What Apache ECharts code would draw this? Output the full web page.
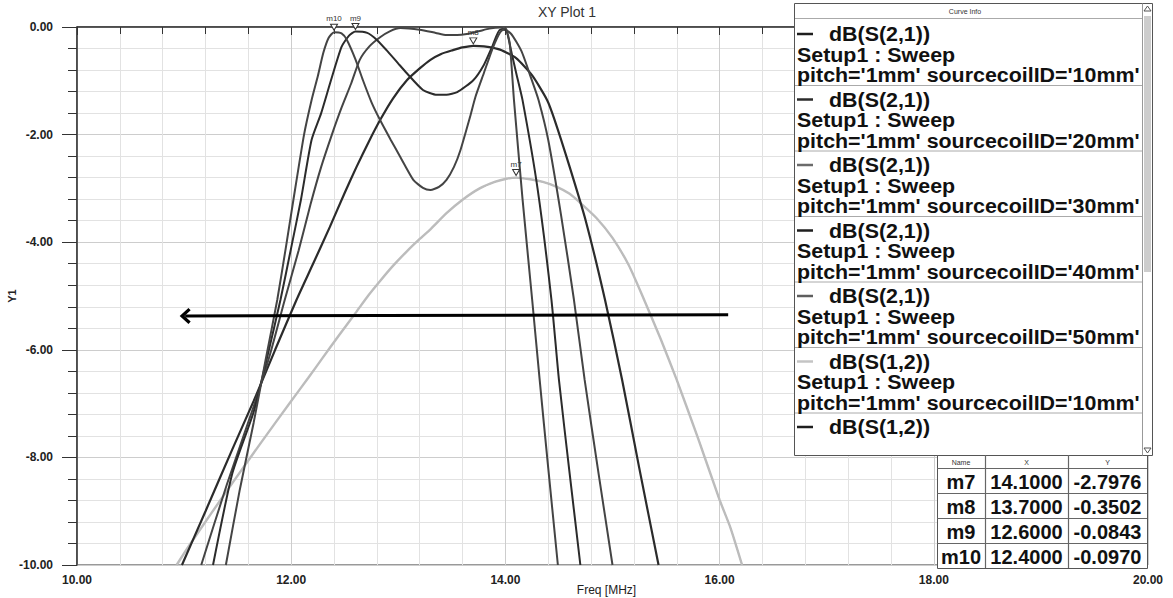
<!DOCTYPE html>
<html><head><meta charset="utf-8">
<script src="https://cdn.jsdelivr.net/npm/echarts@6/dist/echarts.min.js"></script>
<style>html,body{margin:0;padding:0;background:#fff}#c{width:1173px;height:598px}</style>
</head><body><div id="c"></div>
<script>
// ---- data (Freq MHz, dB) ----
const s21_10mm = [[10.93,-10],[11.04,-9.66],[11.25,-9.05],[11.46,-8.45],[11.72,-7.72],[11.99,-6.98],[12.16,-6.52],[12.29,-6.16],[12.45,-5.72],[12.61,-5.29],[12.72,-4.99],[12.83,-4.72],[12.95,-4.44],[13.08,-4.17],[13.2,-3.94],[13.3,-3.76],[13.45,-3.46],[13.6,-3.21],[13.76,-3.0],[13.9,-2.88],[14.01,-2.82],[14.1,-2.8],[14.23,-2.83],[14.35,-2.88],[14.48,-2.97],[14.6,-3.1],[14.7,-3.27],[14.85,-3.55],[15.0,-3.92],[15.15,-4.42],[15.28,-5.0],[15.45,-5.8],[15.6,-6.56],[15.8,-7.65],[16.0,-8.79],[16.1,-9.3],[16.21,-10]];
const s21_20mm = [[10.98,-10],[11.2,-9.0],[11.45,-7.85],[11.65,-6.95],[11.85,-6.0],[12.05,-5.07],[12.2,-4.42],[12.36,-3.72],[12.5,-3.08],[12.61,-2.6],[12.72,-2.15],[12.83,-1.73],[12.95,-1.33],[13.08,-0.99],[13.2,-0.77],[13.3,-0.61],[13.4,-0.5],[13.51,-0.43],[13.6,-0.38],[13.7,-0.35],[13.8,-0.36],[13.95,-0.42],[14.1,-0.58],[14.25,-0.9],[14.39,-1.36],[14.46,-1.73],[14.6,-2.6],[14.75,-3.6],[14.93,-5.07],[15.09,-6.56],[15.25,-8.2],[15.43,-10]];
const s21_30mm = [[11.16,-10],[11.4,-8.5],[11.65,-7.05],[11.8,-6.1],[11.94,-5.07],[12.07,-4.15],[12.18,-3.3],[12.28,-2.6],[12.38,-2.0],[12.47,-1.5],[12.56,-1.05],[12.64,-0.61],[12.73,-0.36],[12.83,-0.19],[12.92,-0.08],[13.02,-0.02],[13.2,-0.05],[13.35,-0.11],[13.45,-0.15],[13.55,-0.15],[13.64,-0.13],[13.75,-0.08],[13.85,-0.03],[13.95,-0.01],[14.05,-0.12],[14.15,-0.45],[14.24,-0.95],[14.31,-1.36],[14.4,-2.1],[14.52,-3.5],[14.64,-5.07],[14.74,-6.56],[14.87,-8.3],[15.0,-10]];
const s21_40mm = [[11.27,-10],[11.45,-8.3],[11.65,-7.15],[11.78,-6.1],[11.9,-5.07],[12.0,-4.1],[12.09,-3.22],[12.19,-2.1],[12.28,-1.6],[12.37,-1.0],[12.47,-0.37],[12.54,-0.16],[12.6,-0.084],[12.71,-0.11],[12.8,-0.24],[12.89,-0.43],[13.0,-0.68],[13.08,-0.86],[13.23,-1.17],[13.36,-1.26],[13.45,-1.26],[13.55,-1.21],[13.7,-0.99],[13.8,-0.7],[13.88,-0.35],[13.95,-0.05],[14.0,-0.05],[14.06,-0.5],[14.1,-0.85],[14.16,-1.36],[14.3,-3.0],[14.43,-5.07],[14.5,-6.56],[14.6,-8.3],[14.7,-10]];
const s21_50mm = [[11.39,-10],[11.52,-8.6],[11.65,-7.35],[11.76,-6.2],[11.87,-5.07],[11.95,-4.1],[12.02,-3.22],[12.12,-2.0],[12.19,-1.36],[12.25,-0.9],[12.3,-0.48],[12.35,-0.2],[12.4,-0.097],[12.47,-0.12],[12.52,-0.24],[12.6,-0.6],[12.67,-0.99],[12.75,-1.4],[12.83,-1.73],[12.93,-2.1],[13.02,-2.42],[13.14,-2.84],[13.23,-2.99],[13.3,-3.03],[13.38,-2.97],[13.45,-2.84],[13.52,-2.6],[13.58,-2.29],[13.67,-1.67],[13.72,-1.3],[13.8,-0.85],[13.88,-0.4],[13.95,-0.1],[14.0,-0.02],[14.04,-0.3],[14.08,-1.36],[14.16,-3.2],[14.25,-5.07],[14.32,-6.56],[14.4,-8.2],[14.49,-10]];
const s12_10mm = [[10.93,-10],[11.04,-9.66],[11.25,-9.05],[11.46,-8.45],[11.72,-7.72],[11.99,-6.98],[12.16,-6.52],[12.29,-6.16],[12.45,-5.72],[12.61,-5.29],[12.72,-4.99],[12.83,-4.72],[12.95,-4.44],[13.08,-4.17],[13.2,-3.94],[13.3,-3.76],[13.45,-3.46],[13.6,-3.21],[13.76,-3.0],[13.9,-2.88],[14.01,-2.82],[14.1,-2.8],[14.23,-2.83],[14.35,-2.88],[14.48,-2.97],[14.6,-3.1],[14.7,-3.27],[14.85,-3.55],[15.0,-3.92],[15.15,-4.42],[15.28,-5.0],[15.45,-5.8],[15.6,-6.56],[15.8,-7.65],[16.0,-8.79],[16.1,-9.3],[16.21,-10]];

// markers
const markerNames = ["m7","m8","m9","m10"];
const markerX = [14.1, 13.7, 12.6, 12.4];
const markerY = [-2.7976, -0.3502, -0.0843, -0.0970];

// arrow annotation (data coords)
const arrowStart = [16.08, -5.35];
const arrowEnd = [11.01, -5.37];

// legend entries
const legendNames = ["dB(S(2,1))","dB(S(2,1))","dB(S(2,1))","dB(S(2,1))","dB(S(2,1))","dB(S(1,2))","dB(S(1,2))"];
const legendSetup = "Setup1 : Sweep";
const legendCoil = ["10mm","20mm","30mm","40mm","50mm","10mm",""];
const legendColors = ['#1e1e1e','#2b2b2b','#6b6b6b','#1e1e1e','#5e5e5e','#c4c4c4','#1e1e1e'];

const FONT = '"Liberation Sans", Arial, sans-serif';
const chart = echarts.init(document.getElementById('c'), null, {renderer:'svg'});

function lineSeries(name, data, color, width, z){
  return {type:'line', name, data, showSymbol:false, symbol:'none', smooth:0.2, z,
    lineStyle:{color, width}, emphasis:{disabled:true}, silent:true, animation:false};
}

const graphic = [];
// title
graphic.push({type:'text', x:567, y:12, z:50, style:{text:'XY Plot 1', font:'14px '+FONT, fill:'#333', align:'center', textAlign:'center', verticalAlign:'middle', textVerticalAlign:'middle'}});
// legend box
graphic.push({type:'rect', z:100, shape:{x:794.5,y:3.5,width:358,height:452}, style:{fill:'#fff', stroke:'#555', lineWidth:1}});
graphic.push({type:'line', z:101, shape:{x1:1142.5,y1:3.5,x2:1142.5,y2:455.5}, style:{stroke:'#999', lineWidth:1}});
graphic.push({type:'rect', z:101, shape:{x:1144,y:16,width:7,height:256}, style:{fill:'#cdcdcd'}});
graphic.push({type:'polygon', z:101, shape:{points:[[1144,11],[1147.5,6],[1151,11]]}, style:{fill:'none', stroke:'#555', lineWidth:1}});
graphic.push({type:'polygon', z:101, shape:{points:[[1144,448],[1147.5,453],[1151,448]]}, style:{fill:'none', stroke:'#555', lineWidth:1}});
graphic.push({type:'text', x:965, y:11, z:102, style:{text:'Curve Info', font:'7px '+FONT, fill:'#333', align:'center', textAlign:'center', verticalAlign:'middle', textVerticalAlign:'middle'}});
graphic.push({type:'line', z:101, shape:{x1:795,y1:18.5,x2:1142,y2:18.5}, style:{stroke:'#aaa', lineWidth:1}});
function legendText(x,y,t){
  return {type:'text', x, y, z:102, scaleX:1.07, style:{text:t, font:'bold 20px '+FONT, fill:'#111', align:'left', textAlign:'left', verticalAlign:'middle', textVerticalAlign:'middle'}};
}
legendNames.forEach((nm,i)=>{
  const yc = 34 + 65.5*i;
  graphic.push({type:'line', z:102, shape:{x1:797,y1:yc,x2:813,y2:yc}, style:{stroke:legendColors[i], lineWidth:2.5}});
  graphic.push(legendText(829, yc, nm));
  if (legendCoil[i]) {
    graphic.push(legendText(797, yc+20.5, legendSetup));
    graphic.push(legendText(797, yc+41, "pitch='1mm' sourcecoilID='" + legendCoil[i] + "'"));
  }
  if (i < legendNames.length-1) graphic.push({type:'line', z:101, shape:{x1:795,y1:yc+51.5,x2:1142,y2:yc+51.5}, style:{stroke:'#aaa', lineWidth:1}});
});
// marker table
const colX = [937, 985, 1068, 1147];
const rowY = [455, 468, 493, 518, 543, 568];
graphic.push({type:'rect', z:100, shape:{x:colX[0]+0.5,y:rowY[0]+0.5,width:colX[3]-colX[0],height:rowY[5]-rowY[0]}, style:{fill:'#fff', stroke:'#555', lineWidth:1}});
for (let k=1;k<3;k++) graphic.push({type:'line', z:101, shape:{x1:colX[k]+0.5,y1:rowY[0],x2:colX[k]+0.5,y2:rowY[5]}, style:{stroke:'#666', lineWidth:1.2}});
for (let r=1;r<5;r++) graphic.push({type:'line', z:101, shape:{x1:colX[0],y1:rowY[r]+0.5,x2:colX[3],y2:rowY[r]+0.5}, style:{stroke:'#666', lineWidth:1.2}});
['Name','X','Y'].forEach((h,k)=>{
  graphic.push({type:'text', x:(colX[k]+colX[k+1])/2, y:462, z:102, style:{text:h, font:'7px '+FONT, fill:'#333', align:'center', textAlign:'center', verticalAlign:'middle', textVerticalAlign:'middle'}});
});
markerNames.forEach((nm,r)=>{
  const yc = (rowY[r+1]+rowY[r+2])/2 + 1;
  const cells = [nm, markerX[r].toFixed(4), markerY[r].toFixed(4)];
  cells.forEach((t,k)=>{
    graphic.push({type:'text', x:(colX[k]+colX[k+1])/2, y:yc, z:102, style:{text:t, font:'bold 20px '+FONT, fill:'#111', align:'center', textAlign:'center', verticalAlign:'middle', textVerticalAlign:'middle'}});
  });
});

const option = {
  animation:false,
  backgroundColor:'#fff',
  grid:{left:77, right:25, top:27, bottom:33, containLabel:false, outerBoundsMode:'none', show:true, borderColor:'#333', borderWidth:1, backgroundColor:'transparent'},
  xAxis:{type:'value', min:10, max:20, interval:2,
    name:'Freq [MHz]', nameLocation:'middle', nameGap:19, nameMoveOverlap:false,
    nameTextStyle:{fontFamily:FONT, fontSize:12, color:'#222', padding:[0,12,0,0]},
    axisLine:{lineStyle:{color:'#333', width:1.5}},
    axisTick:{show:true, length:8, lineStyle:{color:'#333'}},
    minorTick:{show:true, splitNumber:5, length:7, lineStyle:{color:'#333'}},
    splitLine:{show:true, lineStyle:{color:'#cdcdcd', width:1}},
    minorSplitLine:{show:true, lineStyle:{color:'#e2e2e2', width:1}},
    axisLabel:{formatter:v=>v.toFixed(2), fontFamily:FONT, fontSize:12, fontWeight:'bold', color:'#222', margin:9, hideOverlap:false}
  },
  yAxis:{type:'value', min:-10, max:0, interval:2,
    name:'Y1', nameLocation:'middle', nameGap:60, nameRotate:90, nameMoveOverlap:false,
    nameTextStyle:{fontFamily:FONT, fontSize:11, fontWeight:'bold', color:'#222'},
    axisLine:{show:true, lineStyle:{color:'#333', width:1.5}},
    axisTick:{show:true, length:15, lineStyle:{color:'#333'}},
    minorTick:{show:true, splitNumber:5, length:9, lineStyle:{color:'#333'}},
    splitLine:{show:true, lineStyle:{color:'#cdcdcd', width:1}},
    minorSplitLine:{show:true, lineStyle:{color:'#e2e2e2', width:1}},
    axisLabel:{formatter:v=>v.toFixed(2), fontFamily:FONT, fontSize:12, fontWeight:'bold', color:'#222', margin:24}
  },
  series:[
    lineSeries("dB(S(2,1)) sourcecoilID='10mm'", s21_10mm, '#1e1e1e', 1, 2),
    lineSeries("dB(S(1,2)) sourcecoilID='10mm'", s12_10mm, '#bcbcbc', 2.4, 3),
    lineSeries("dB(S(2,1)) sourcecoilID='20mm'", s21_20mm, '#2b2b2b', 2.2, 4),
    lineSeries("dB(S(2,1)) sourcecoilID='30mm'", s21_30mm, '#444', 2, 4),
    lineSeries("dB(S(2,1)) sourcecoilID='40mm'", s21_40mm, '#2b2b2b', 2, 4),
    lineSeries("dB(S(2,1)) sourcecoilID='50mm'", s21_50mm, '#444', 2, 4),
    {type:'scatter', name:'markers', z:6, silent:true, animation:false,
      data: markerNames.map((n,i)=>({name:n, value:[markerX[i], markerY[i]]})),
      symbol:'triangle', symbolRotate:180, symbolSize:[7,6], symbolOffset:[0,-5],
      itemStyle:{color:'#fff', borderColor:'#333', borderWidth:1, opacity:1},
      label:{show:true, formatter:p=>p.name, position:'top', distance:1, fontFamily:FONT, fontSize:8, color:'#333'}
    },
    {type:'line', name:'arrow', data:[], z:7, silent:true, animation:false,
      markLine:{silent:true, animation:false,
        symbol:['none','path://M0,10 L10,0 L20,10 L17,12.5 L10,5.5 L3,12.5 Z'], symbolSize:[16,11],
        lineStyle:{color:'#000', width:3, type:'solid'}, label:{show:false}, emphasis:{disabled:true},
        data:[[{coord:arrowStart},{coord:arrowEnd}]]}
    }
  ],
  graphic: graphic
};
chart.setOption(option);
</script></body></html>
